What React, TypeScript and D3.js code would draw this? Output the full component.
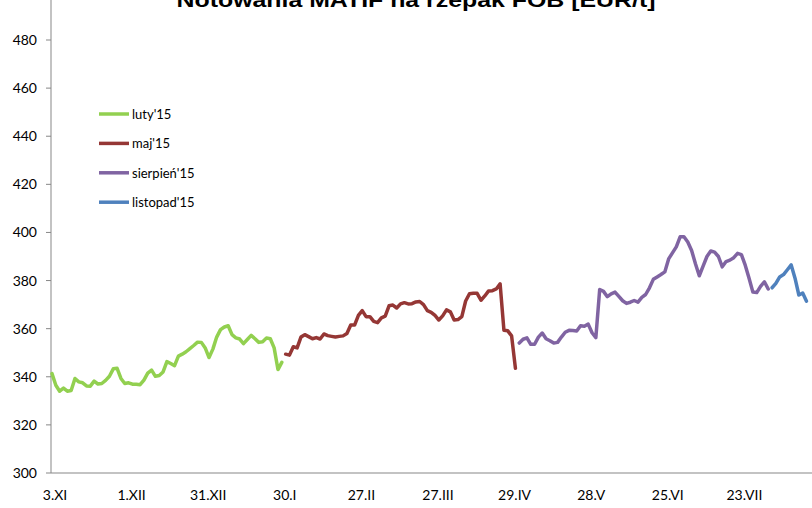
import React from "react";
import * as d3 from "d3";

const TITLE = "Notowania MATIF na rzepak FOB [EUR/t]";
const yTicks = [300, 320, 340, 360, 380, 400, 420, 440, 460, 480, 500];
const xTickIndex = [0, 20, 40, 60, 80, 100, 120, 140, 160, 180];
const xTickLabels = ["3.XI", "1.XII", "31.XII", "30.I", "27.II", "27.III", "29.IV", "28.V", "25.VI", "23.VII"];

const seriesNames = ["luty'15", "maj'15", "sierpień'15", "listopad'15"];
const seriesColors = ["#92D050", "#953735", "#8064A2", "#4F81BD"];
const seriesStart = [0, 61, 122, 188];

const lutyValues = [
  341.3, 336.5, 334, 335.3, 334, 334.3, 339.3, 337.9, 337.5, 336.2,
  336.1, 338.2, 337, 337.2, 338.5, 340.2, 343.3, 343.5, 339.3, 337.2,
  337.5, 336.9, 336.9, 336.7, 338.6, 341.5, 342.8, 340.2, 340.5, 342,
  346.3, 345.5, 344.6, 348.6, 349.4, 350.4, 351.7, 353, 354.4, 354.3,
  352, 348, 351.5, 356.5, 359.6, 360.7, 361.2, 357.5, 356.2, 355.7,
  353.8, 355.5, 357.2, 355.8, 354.3, 354.6, 356.1, 355.8, 352, 343,
  346,
];
const majValues = [
  349.4, 349, 352.5, 352, 356.5, 357.5, 356.7, 355.8, 356.3, 355.7,
  357.8, 357.1, 356.8, 356.5, 356.8, 357, 358, 361.5, 361.5, 365.5,
  367.5, 365, 365, 363, 362.5, 364.5, 365.2, 369.5, 369.8, 368.6,
  370.3, 370.8, 370.3, 370.4, 371.1, 371.3, 370, 367.5, 366.8, 365.5,
  363.6, 365.3, 367.8, 367, 363.6, 363.8, 365, 371.5, 374.5, 374.7,
  374.7, 371.8, 373.6, 375.7, 375.8, 376.5, 378.6, 359.3, 359.1, 357,
  343.5,
];
const sierpienValues = [
  354, 355.6, 356.2, 353.5, 353.5, 356.5, 358.2, 355.8, 355, 354,
  354.3, 356.5, 358.5, 359.3, 359.2, 359, 361.2, 361, 361.9, 358.3,
  356.3, 376.3, 375.5, 373.3, 374.5, 375.2, 373.4, 371.6, 370.5, 371,
  371.7, 371, 373, 374.2, 377, 380.5, 381.5, 382.5, 383.6, 389,
  391.5, 394, 398.2, 398.2, 396, 392.5, 387, 382, 386, 390,
  392.3, 391.8, 390, 385.7, 387.9, 388.5, 389.5, 391.3, 390.8, 386.4,
  381, 375.2, 375, 377.6, 379.5, 376.5,
];
const listopadValues = [377, 378.8, 381.5, 382.5, 384.5, 386.5, 381, 374, 374.8, 371.4];

const allValues = [lutyValues, majValues, sierpienValues, listopadValues];

const W = 812;
const H = 508;
const axisX = 51;
const axisY = 473;
const FONT = "Lato, 'Open Sans', sans-serif";

export default function App() {
  const x = d3.scaleLinear().domain([0, 197]).range([52, 52 + 3.83 * 197]);
  const y = d3.scaleLinear().domain([300, 480]).range([axisY, 40]);
  const line = d3
    .line<[number, number]>()
    .x((d) => x(d[0]))
    .y((d) => y(d[1]))
    .curve(d3.curveLinear);

  const series = allValues.map((vals, k) => ({
    name: seriesNames[k],
    color: seriesColors[k],
    pts: vals.map((v, i) => [seriesStart[k] + i, v] as [number, number]),
  }));

  return (
    <svg
      width={W}
      height={H}
      style={{ position: "absolute", left: 0, top: 0, background: "#fff" }}
      fontFamily={FONT}
    >
      <rect x={0} y={0} width={W} height={H} fill="#fff" />
      <text
        x={416}
        y={7}
        textAnchor="middle"
        fontFamily="'Liberation Sans', Arial, sans-serif"
        fontWeight="bold"
        fontSize={20}
        textLength={479}
        lengthAdjust="spacingAndGlyphs"
        fill="#000"
      >
        {TITLE}
      </text>

      {/* y axis */}
      <line x1={axisX} x2={axisX} y1={0} y2={axisY} stroke="#878787" strokeWidth={1} />
      {yTicks.map((t) => (
        <g key={t}>
          <line x1={axisX - 5} x2={axisX} y1={y(t)} y2={y(t)} stroke="#878787" strokeWidth={1} />
          {y(t) > 10 && (
            <text x={37} y={y(t) + 5} textAnchor="end" fontSize={14} fill="#000">
              {t}
            </text>
          )}
        </g>
      ))}

      {/* x axis */}
      <line x1={axisX} x2={W} y1={axisY} y2={axisY} stroke="#878787" strokeWidth={1} />
      {xTickIndex.map((idx, k) => (
        <text key={k} x={x(idx) + 3} y={500} textAnchor="middle" fontSize={14} fill="#000">
          {xTickLabels[k]}
        </text>
      ))}

      {/* series */}
      {series.map((s) => (
        <path
          key={s.name}
          d={line(s.pts) || ""}
          fill="none"
          stroke={s.color}
          strokeWidth={3.5}
          strokeLinejoin="round"
          strokeLinecap="round"
        />
      ))}

      {/* legend */}
      {series.map((s, k) => {
        const ly = 114 + k * 29.4;
        return (
          <g key={"lg" + k}>
            <line x1={99} x2={129} y1={ly} y2={ly} stroke={s.color} strokeWidth={3.5} />
            <text x={132} y={ly + 5} fontSize={13} fill="#000">
              {s.name}
            </text>
          </g>
        );
      })}
    </svg>
  );
}
